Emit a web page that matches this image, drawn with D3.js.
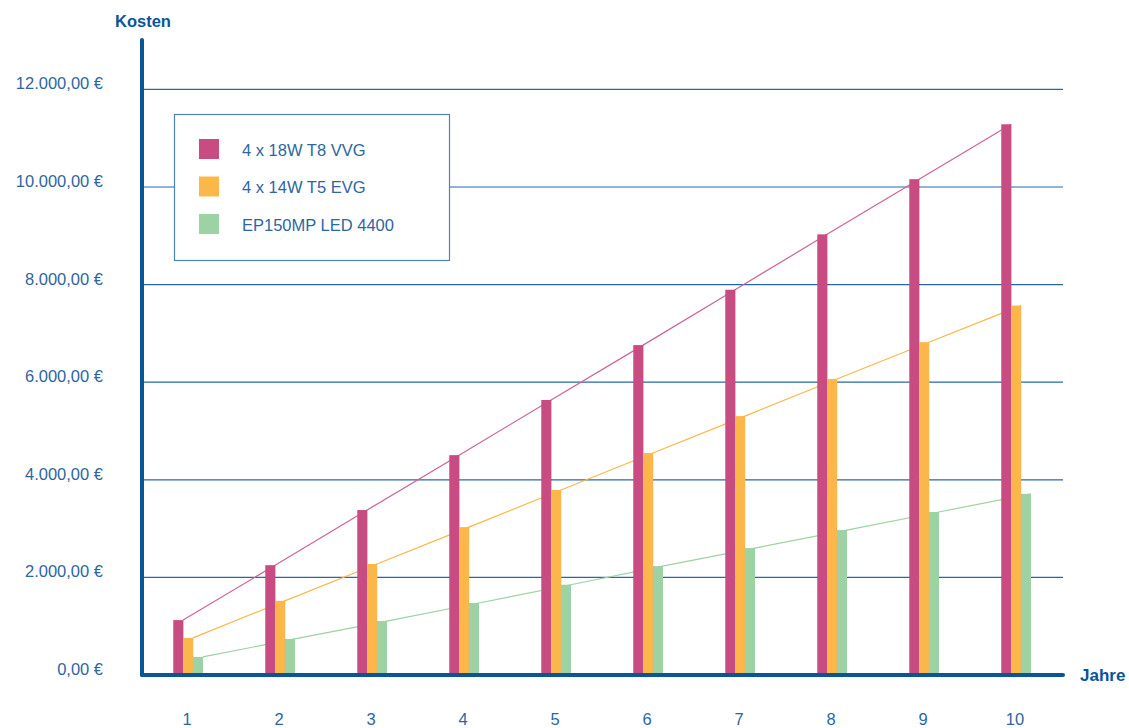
<!DOCTYPE html>
<html>
<head>
<meta charset="utf-8">
<script src="https://cdn.jsdelivr.net/npm/d3@7"></script>
<style>
  html, body { margin: 0; padding: 0; background: #ffffff; }
  svg { display: block; }
  text { font-family: "Liberation Sans", Arial, Helvetica, sans-serif; }
</style>
</head>
<body>
<svg id="chart" width="1129" height="728"></svg>
<script>
// ---- data ----
const years = ["1", "2", "3", "4", "5", "6", "7", "8", "9", "10"];
const seriesNames = ["4 x 18W T8 VVG", "4 x 14W T5 EVG", "EP150MP LED 4400"];
const seriesColors = ["#c84b82", "#fbb74a", "#9cd2a4"];
const lineColors = ["#d2619a", "#fbb74a", "#9cd2a4"];
const t8Values = [1125, 2250, 3380, 4505, 5635, 6760, 7895, 9030, 10160, 11285];
const t5Values = [760, 1520, 2275, 3030, 3790, 4548, 5305, 6065, 6820, 7570];
const ledValues = [370, 740, 1105, 1475, 1850, 2232, 2600, 2970, 3340, 3712];
const yTicks = [0, 2000, 4000, 6000, 8000, 10000, 12000];
const yTickLabels = ["0,00 €", "2.000,00 €", "4.000,00 €", "6.000,00 €", "8.000,00 €", "10.000,00 €", "12.000,00 €"];
const yAxisTitle = "Kosten";
const xAxisTitle = "Jahre";

const seriesValues = [t8Values, t5Values, ledValues];

// ---- layout ----
const svg = d3.select("#chart");
const axisColor = "#0b5596";
const textColor = "#2d66a1";

const y = d3.scaleLinear().domain([0, 12000]).range([675, 89.4]);
const x = d3.scaleBand().domain(years).range([142, 1062])
  .paddingInner(0.68).paddingOuter(0.34);
const xs = d3.scaleBand().domain(d3.range(seriesNames.length)).range([0, x.bandwidth()]);

// gridlines
svg.append("g").selectAll("line")
  .data(yTicks.slice(1))
  .join("line")
  .attr("x1", 144).attr("x2", 1063)
  .attr("y1", d => y(d)).attr("y2", d => y(d))
  .attr("stroke", "#2a67a3").attr("stroke-width", 1.2);

// y tick labels
svg.append("g").selectAll("text")
  .data(yTicks)
  .join("text")
  .attr("x", 103)
  .attr("y", d => y(d))
  .attr("text-anchor", "end")
  .attr("font-size", 16.5)
  .attr("fill", textColor)
  .text((d, i) => yTickLabels[i]);

// trend lines (behind bars), through top-right corners of the bars
seriesValues.forEach((vals, si) => {
  const line = d3.line()
    .x((d, i) => x(years[i]) + xs(si) + xs.bandwidth())
    .y(d => y(d));
  svg.append("path")
    .datum(vals)
    .attr("d", line)
    .attr("fill", "none")
    .attr("stroke", lineColors[si])
    .attr("stroke-width", 1.2);
});

// bars
seriesValues.forEach((vals, si) => {
  svg.append("g").selectAll("rect")
    .data(vals)
    .join("rect")
    .attr("x", (d, i) => x(years[i]) + xs(si))
    .attr("width", xs.bandwidth() + 0.3)
    .attr("y", d => y(d))
    .attr("height", d => y(0) - y(d))
    .attr("fill", seriesColors[si]);
});

// x category labels
svg.append("g").selectAll("text")
  .data(years)
  .join("text")
  .attr("x", d => x(d) + x.bandwidth() / 2 - 1)
  .attr("y", 725)
  .attr("text-anchor", "middle")
  .attr("font-size", 16.5)
  .attr("fill", textColor)
  .text(d => d);

// axes
svg.append("line")
  .attr("x1", 142).attr("x2", 142).attr("y1", 40).attr("y2", 675)
  .attr("stroke", axisColor).attr("stroke-width", 4).attr("stroke-linecap", "round");
svg.append("line")
  .attr("x1", 142).attr("x2", 1063).attr("y1", 675).attr("y2", 675)
  .attr("stroke", axisColor).attr("stroke-width", 4).attr("stroke-linecap", "round");

// axis titles
svg.append("text")
  .attr("x", 115).attr("y", 26.5)
  .attr("font-size", 16.5).attr("font-weight", "bold")
  .attr("fill", axisColor).text(yAxisTitle);
svg.append("text")
  .attr("x", 1080).attr("y", 681)
  .attr("font-size", 17).attr("font-weight", "bold")
  .attr("fill", axisColor).text(xAxisTitle);

// legend
const lg = svg.append("g");
lg.append("rect")
  .attr("x", 174.5).attr("y", 114.5).attr("width", 275).attr("height", 146)
  .attr("fill", "#ffffff").attr("stroke", "#4f82b6").attr("stroke-width", 1.2);
const items = lg.selectAll("g.item")
  .data(seriesNames)
  .join("g")
  .attr("class", "item")
  .attr("transform", (d, i) => `translate(199, ${139 + i * 37.5})`);
items.append("rect")
  .attr("width", 20).attr("height", 20)
  .attr("fill", (d, i) => seriesColors[i]);
items.append("text")
  .attr("x", 43).attr("y", 16.5)
  .attr("font-size", 16.5)
  .attr("fill", textColor)
  .text(d => d);
</script>
</body>
</html>
